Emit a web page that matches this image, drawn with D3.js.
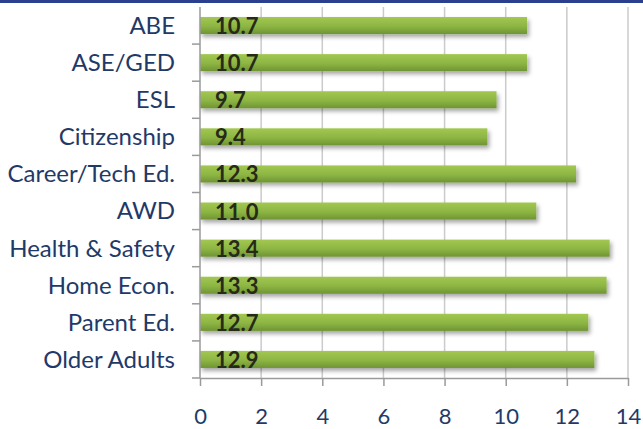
<!DOCTYPE html>
<html>
<head>
<meta charset="utf-8">
<script src="https://cdn.jsdelivr.net/npm/d3@7"></script>
<style>
  body { margin: 0; background: #fff; }
</style>
</head>
<body>
<div id="chart"></div>
<script>
const categories = ["ABE", "ASE/GED", "ESL", "Citizenship", "Career/Tech Ed.", "AWD", "Health & Safety", "Home Econ.", "Parent Ed.", "Older Adults"];
const values = [10.7, 10.7, 9.7, 9.4, 12.3, 11.0, 13.4, 13.3, 12.7, 12.9];
const xTicks = [0, 2, 4, 6, 8, 10, 12, 14];

const width = 643, height = 429;
const margin = { top: 7, right: 15, bottom: 51, left: 200 };
const font = "Lato, 'Open Sans', sans-serif";
const navy = "#1f3a68";

const svg = d3.select("#chart").append("svg")
    .attr("width", width)
    .attr("height", height);

const defs = svg.append("defs");
const grad = defs.append("linearGradient")
    .attr("id", "barGrad")
    .attr("x1", 0).attr("y1", 0).attr("x2", 0).attr("y2", 1);
grad.append("stop").attr("offset", "0%").attr("stop-color", "#a2c851");
grad.append("stop").attr("offset", "55%").attr("stop-color", "#8db543");
grad.append("stop").attr("offset", "100%").attr("stop-color", "#6f9434");

const shadow = defs.append("filter").attr("id", "shadow")
    .attr("x", "-5%").attr("y", "-30%").attr("width", "115%").attr("height", "190%");
shadow.append("feDropShadow")
    .attr("dx", 2).attr("dy", 3).attr("stdDeviation", 2)
    .attr("flood-color", "#000").attr("flood-opacity", 0.35);

// top border
svg.append("rect")
    .attr("x", 0).attr("y", 0)
    .attr("width", width).attr("height", 3)
    .attr("fill", "#2b3f8e");

const x = d3.scaleLinear()
    .domain([0, 14])
    .range([margin.left, 628]);

const y = d3.scaleBand()
    .domain(categories)
    .range([margin.top, height - margin.bottom])
    .paddingInner(0.54)
    .paddingOuter(0.27);

// gridlines
svg.append("g")
    .selectAll("line")
    .data(xTicks.slice(1))
    .join("line")
    .attr("x1", d => x(d)).attr("x2", d => x(d))
    .attr("y1", margin.top).attr("y2", height - margin.bottom)
    .attr("stroke", "#cbcbcb")
    .attr("stroke-width", 1.5);

// bars
svg.append("g")
    .selectAll("rect")
    .data(values)
    .join("rect")
    .attr("x", x(0))
    .attr("y", (d, i) => y(categories[i]))
    .attr("width", d => x(d) - x(0))
    .attr("height", y.bandwidth())
    .attr("fill", "url(#barGrad)")
    .attr("filter", "url(#shadow)");

// value labels
svg.append("g")
    .selectAll("text")
    .data(values)
    .join("text")
    .attr("x", x(0) + 15)
    .attr("y", (d, i) => y(categories[i]) + y.bandwidth() / 2 + 8.5)
    .attr("font-family", font)
    .attr("font-size", 22)
    .attr("font-weight", "bold")
    .attr("fill", "#262b17")
    .text(d => d.toFixed(1));

// x axis
const xAxis = svg.append("g")
    .attr("transform", `translate(0, ${height - margin.bottom})`)
    .call(d3.axisBottom(x).tickValues(xTicks).tickSize(8).tickPadding(22).tickSizeOuter(0));
xAxis.select(".domain").attr("stroke", "#9a9a9a").attr("stroke-width", 1.5);
xAxis.selectAll(".tick line").attr("stroke", "#9a9a9a").attr("stroke-width", 1.5);
xAxis.selectAll("text")
    .attr("font-family", font)
    .attr("font-size", 22)
    .attr("fill", navy);

// y axis: ticks between categories
const step = y.step();
const yLine = svg.append("g");
yLine.append("line")
    .attr("x1", x(0)).attr("x2", x(0))
    .attr("y1", margin.top).attr("y2", height - margin.bottom)
    .attr("stroke", "#9a9a9a").attr("stroke-width", 1.5);
yLine.selectAll(".sep")
    .data(d3.range(1, categories.length + 1))
    .join("line")
    .attr("class", "sep")
    .attr("x1", x(0) - 8).attr("x2", x(0))
    .attr("y1", i => margin.top + i * step)
    .attr("y2", i => margin.top + i * step)
    .attr("stroke", "#9a9a9a").attr("stroke-width", 1.5);

// category labels
svg.append("g")
    .selectAll("text")
    .data(categories)
    .join("text")
    .attr("x", 175)
    .attr("y", d => y(d) + y.bandwidth() / 2)
    .attr("dy", "0.35em")
    .attr("text-anchor", "end")
    .attr("font-family", font)
    .attr("font-size", 24)
    .attr("fill", navy)
    .text(d => d);
</script>
</body>
</html>
